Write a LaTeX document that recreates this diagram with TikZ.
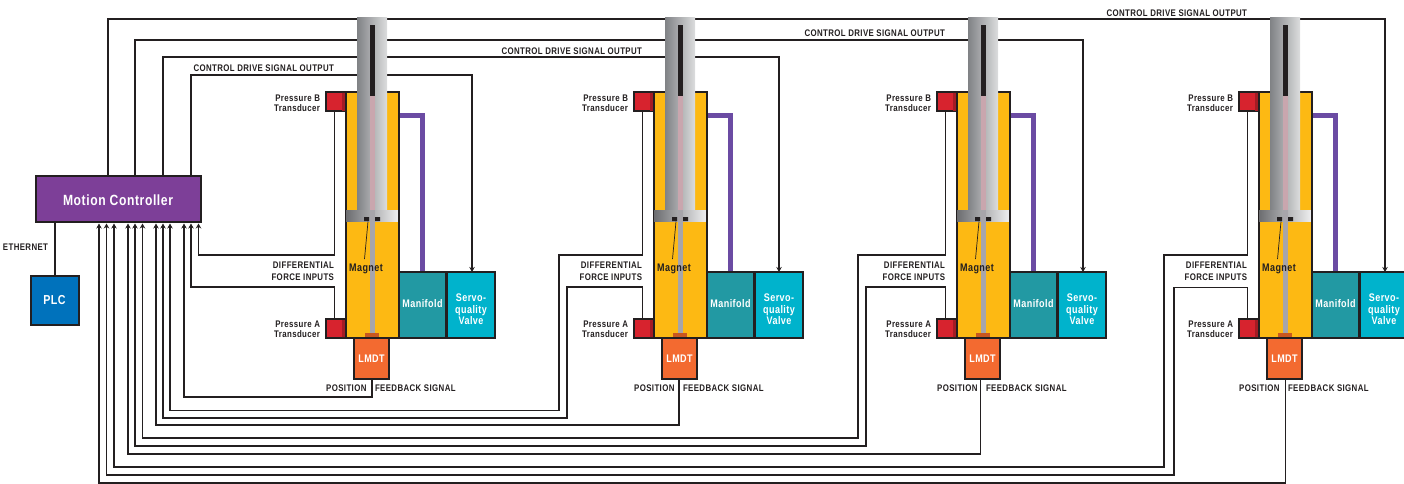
\documentclass[tikz,border=0pt]{standalone}
\usepackage{fontspec}
\setmainfont{Liberation Sans}[FakeStretch=0.82,LetterSpace=4]
\usetikzlibrary{arrows.meta,calc}
\definecolor{ink}{HTML}{231F20}
\definecolor{bodyc}{HTML}{FDB913}
\definecolor{manic}{HTML}{2299A3}
\definecolor{valvc}{HTML}{00B3CC}
\definecolor{lmdc}{HTML}{F36A30}
\definecolor{capc}{HTML}{C9581F}
\definecolor{redc}{HTML}{D7232E}
\definecolor{dredc}{HTML}{A51C24}
\definecolor{purpc}{HTML}{7D3F98}
\definecolor{wirep}{HTML}{6B4BA3}
\definecolor{plcc}{HTML}{0072BC}
\definecolor{pinkc}{HTML}{C9A6AE}
\definecolor{rodg}{HTML}{A7A5AA}
\definecolor{rodl}{HTML}{808285}
\definecolor{rodm}{HTML}{A3A4A8}
\definecolor{rodr}{HTML}{DCDDDE}
\definecolor{pisl}{HTML}{6D6E71}
\definecolor{pism}{HTML}{C4C5C7}
\definecolor{pisr}{HTML}{EEEEEF}
\tikzset{
  wire/.style={draw=ink,line width=1.7pt,line join=miter},
  inwire/.style={wire,-{Stealth[length=5pt,width=5.5pt]}},
  outw/.style={wire,-{Stealth[length=5pt,width=5.5pt]}},
  unit/.style={draw=ink,line width=2pt,inner sep=0pt,outer sep=0pt,text=white,font=\bfseries},
  lab/.style={inner sep=0pt,outer sep=0pt,text=ink,font=\fontsize{9.6}{11}\selectfont\bfseries,align=center},
  labr/.style={lab,align=right,anchor=east},
  inlab/.style={inner sep=0pt,outer sep=0pt,text=white,align=center,font=\fontsize{11}{12}\selectfont\bfseries},
}
\pgfdeclarelayer{back}\pgfsetlayers{back,main}
\begin{document}
\begin{tikzpicture}[x=1pt,y=-1pt]
\useasboundingbox (0,0) rectangle (1404,484);
\clip (0,0) rectangle (1404,484);

% controller and PLC
\node[unit,fill=purpc,minimum width=165pt,minimum height=46pt] (mc) at (118.5,198.5) {};
\node[inlab,font=\fontsize{14.8}{15}\selectfont\bfseries] (mct) at (118,200) {Motion Controller};
\node[unit,fill=plcc,minimum width=48pt,minimum height=49pt] (plc) at (54.5,300)
  {\fontsize{13}{14}\selectfont PLC};
\draw[wire,line width=2pt] (mc.south -| plc.north) -- (plc.north);
\node[lab,anchor=center] (eth) at (25.5,247) {ETHERNET};

% connection points on the controller
\foreach \n/\x in {o1/191,o2/163,o3/135,o4/108}{\coordinate (\n) at (\x,175);}
\foreach \n/\x in {a1/198.5,b1/191,c1/184,a2/170,b2/163,c2/156,a3/142.5,b3/135,c3/128,a4/114,b4/106.5,c4/99}{\coordinate (\n) at (\x,223.5);}

\foreach \i/\o in {1/0,2/308,3/611,4/913}{
\begin{scope}[shift={(\o,0)}]
  \node[unit,fill=redc,minimum width=20pt,minimum height=19pt] (pb\i) at (335.5,102) {};
  \node[unit,fill=redc,minimum width=20pt,minimum height=19pt] (pa\i) at (335.5,328.5) {};
  \fill[dredc] (342,93) rectangle (345,111) (342,320) rectangle (345,337);
  \node[unit,fill=bodyc,minimum width=53pt,minimum height=245pt] (cyl\i) at (372,215) {};
  % rod, piston, sensor tube
  \shade[left color=rodl,middle color=rodm,right color=rodr] (357,18) rectangle (387,211);
  \shade[left color=pisl,middle color=pism,right color=pisr] (346.2,210) rectangle (397.8,221.5);
  \fill[ink] (364,217) rectangle (369,221) (375,217) rectangle (380,221);
  \draw[ink,line width=.7pt] (368,221.5) -- (364.5,259);
  \fill[ink] (369.5,25) rectangle (374.5,96);
  \fill[pinkc] (370,96) rectangle (374.5,210);
  \fill[rodg] (370,210) rectangle (374.5,333);
  \fill[capc] (365,333) rectangle (379,338);
  % manifold, valve, LMDT
  \node[unit,fill=manic,minimum width=47.5pt,minimum height=66pt] (man\i) at (422.5,305) {};
  \node[unit,fill=valvc,minimum width=48pt,minimum height=66pt] (val\i) at (470.5,305) {};
  \node[unit,fill=lmdc,minimum width=35pt,minimum height=41pt] (lm\i) at (371.5,358.5) {};
  \node[inlab] (tm\i) at (422.5,304) {Manifold};
  \node[inlab] (tv\i) at (471,309.5) {Servo-\\[-.5pt]quality\\[-.5pt]Valve};
  \node[inlab] (tl\i) at (371.5,358.5) {LMDT};
  \node[lab,font=\fontsize{11}{12}\selectfont\bfseries] (tg\i) at (366,269) {Magnet};
  \node[labr] (lb\i) at (320,103) {Pressure B\\[-1pt]Transducer};
  \node[labr] (la\i) at (320,329.5) {Pressure A\\[-1pt]Transducer};
  \node[labr] (ld\i) at (334,271) {DIFFERENTIAL\\[1pt]FORCE INPUTS};
  \node[lab,anchor=east] (lp\i) at (366.5,388) {POSITION};
  \node[lab,anchor=west] (lf\i) at (375,388) {FEEDBACK SIGNAL};
  % purple hydraulic line
  \begin{pgfonlayer}{back}
    \draw[wirep,line width=4.5pt,line join=miter] (cyl\i.east |- 0,115.5) -| (man\i.north);
  \end{pgfonlayer}
\end{scope}
}

% control drive outputs
\node[labr] (cd1) at (334,68) {CONTROL DRIVE SIGNAL OUTPUT};
\node[labr] (cd2) at (642,51) {CONTROL DRIVE SIGNAL OUTPUT};
\node[labr] (cd3) at (945,33) {CONTROL DRIVE SIGNAL OUTPUT};
\node[labr] (cd4) at (1247,13) {CONTROL DRIVE SIGNAL OUTPUT};

\begin{pgfonlayer}{back}
  \draw[outw] (o1) |- (472,75) -- (val1.north -| 472,0);
  \draw[outw] (o2) |- (779,57) -- (val2.north -| 779,0);
  \draw[outw] (o3) |- (1083,40) -- (val3.north -| 1083,0);
  \draw[outw] (o4) |- (1385,19) -- (val4.north -| 1385,0);

  % cylinder 1
  \draw[inwire] ([xshift=-1pt]pb1.south) |- (a1 |- 0,255) -- (a1);
  \draw[inwire] ([xshift=-1pt]pa1.north) |- (b1 |- 0,287) -- (b1);
  \draw[inwire] ([xshift=.5pt]lm1.south) |- (c1 |- 0,397) -- (c1);
  % cylinder 2
  \draw[inwire] ([xshift=-1pt]pb2.south) |- (559,255) |- (a2 |- 0,410.5) -- (a2);
  \draw[inwire] ([xshift=-1pt]pa2.north) |- (567,287) |- (b2 |- 0,418) -- (b2);
  \draw[inwire] ([xshift=-.5pt]lm2.south) |- (c2 |- 0,425) -- (c2);
  % cylinder 3
  \draw[inwire] ([xshift=-1pt]pb3.south) |- (858,255) |- (a3 |- 0,438) -- (a3);
  \draw[inwire] ([xshift=-1pt]pa3.north) |- (866,287) |- (b3 |- 0,446) -- (b3);
  \draw[inwire] ([xshift=-2pt]lm3.south) |- (c3 |- 0,454) -- (c3);
  % cylinder 4
  \draw[inwire] ([xshift=-1pt]pb4.south) |- (1164,255) |- (a4 |- 0,467) -- (a4);
  \draw[inwire] ([xshift=-1pt]pa4.north) |- (1174,287.5) |- (b4 |- 0,475) -- (b4);
  \draw[inwire] ([xshift=1pt]lm4.south) |- (c4 |- 0,483) -- (c4);
\end{pgfonlayer}
\end{tikzpicture}
\end{document}
